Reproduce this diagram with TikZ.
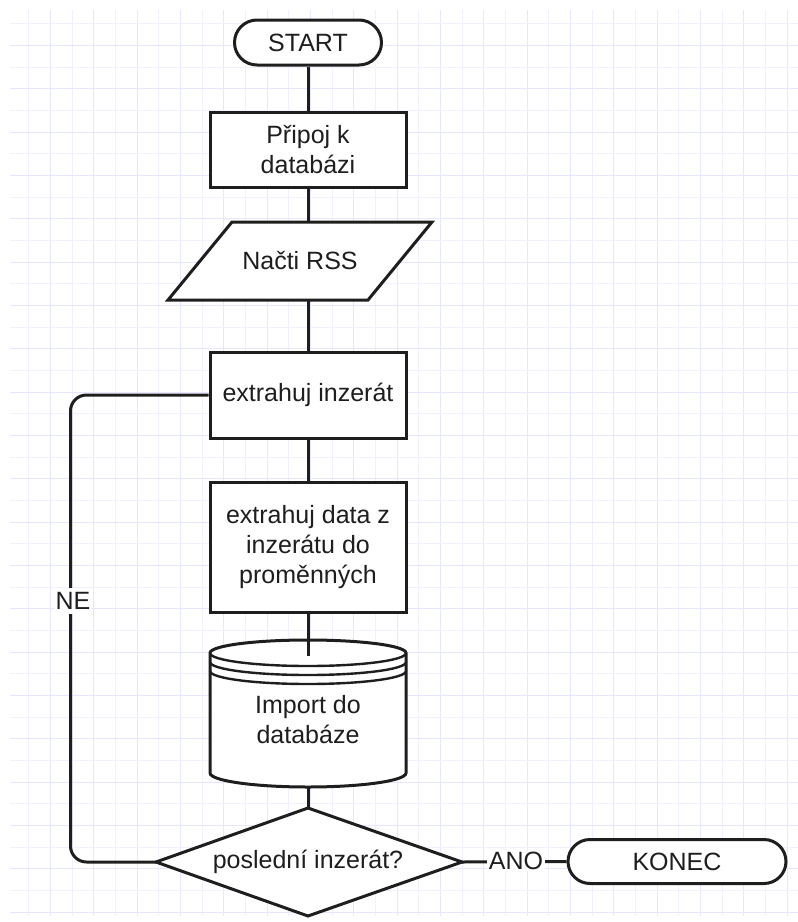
\documentclass[tikz,border=0pt]{standalone}
\usepackage{fontspec}
\setmainfont{Liberation Sans}
\usetikzlibrary{shapes.misc}
\definecolor{gridlight}{RGB}{240,240,255}
\definecolor{griddark}{RGB}{230,230,255}
\definecolor{ink}{RGB}{30,30,30}
\begin{document}
\begin{tikzpicture}[x=1pt,y=-1pt,
  shapeline/.style={line width=3pt, draw=ink},
  proc/.style={shapeline, rectangle, fill=white, minimum width=196pt, inner sep=0pt, align=center, text=ink},
  term/.style={shapeline, rounded rectangle, fill=white, inner sep=0pt, text=ink},
  txt/.style={inner sep=0pt, align=center, text=ink},
  conn/.style={line width=3pt, draw=ink},
  lbl/.style={fill=white, inner sep=1.5pt, text=ink},
  font=\fontsize{25}{30}\selectfont]
\useasboundingbox (0,0) rectangle (798,922);
% grid
\foreach \k in {0,...,35}{
  \pgfmathsetmacro{\gx}{round(28.33+21.667*\k)+0.5}
  \ifodd\k \def\gc{griddark}\else\def\gc{gridlight}\fi
  \draw[line width=1.5pt, draw=\gc] (\gx,10) -- (\gx,916);
}
\foreach \k in {0,...,41}{
  \pgfmathsetmacro{\gy}{round(23.33+21.667*\k)+0.5}
  \ifodd\k \def\gc{griddark}\else\def\gc{gridlight}\fi
  \draw[line width=1.5pt, draw=\gc] (10,\gy) -- (798,\gy);
}
% nodes
\node[term, minimum width=147pt, minimum height=45pt] (start) at (308,42.5) {START};
\node[proc, minimum height=75pt] (pripoj) at (308,149.5) {Připoj k\\databázi};
% parallelogram (input)
\filldraw[shapeline, fill=white] (232,222) -- (432,222) -- (368,300) -- (168,300) -- cycle;
\node[txt] (rss) at (300,261) {Načti RSS};
\coordinate (rsstop) at (308,222);
\coordinate (rssbot) at (308,300);
\node[proc, minimum height=86pt] (ext) at (308,395) {extrahuj inzerát};
\node[proc, minimum height=130pt] (data) at (308,547) {extrahuj data z\\inzerátu do\\proměnných};
% data store cylinder
\filldraw[shapeline, fill=white] (210,653) -- (210,773)
  .. controls (210,780.7) and (253.9,787) .. (308,787)
  .. controls (362.1,787) and (406,780.7) .. (406,773)
  -- (406,653)
  .. controls (406,645.8) and (362.1,640) .. (308,640)
  .. controls (253.9,640) and (210,645.8) .. (210,653) -- cycle;
\foreach \d in {0,9,18}{
  \draw[line width=2.4pt, draw=ink] (210,653+\d)
    .. controls (210,660.2+\d) and (253.9,666+\d) .. (308,666+\d)
    .. controls (362.1,666+\d) and (406,660.2+\d) .. (406,653+\d);
}
\node[txt] (imp) at (308,720) {Import do\\databáze};
\coordinate (cyltop) at (308,656);
\coordinate (cylbot) at (308,787);
% decision diamond
\coordinate (dtop) at (308,808);
\coordinate (dleft) at (156,862);
\coordinate (dright) at (462,862);
\coordinate (dbot) at (308,916);
\filldraw[shapeline, fill=white] (dtop) -- (dright) -- (dbot) -- (dleft) -- cycle;
\node[txt] (dec) at (308,862) {poslední inzerát?};
\node[term, minimum width=218pt, minimum height=44pt] (konec) at (677,861.5) {KONEC};
\coordinate (loop) at (70.5,0);
% connectors
\draw[conn] (start.south) -- (pripoj.north);
\draw[conn] (pripoj.south) -- (rsstop);
\draw[conn] (rssbot) -- (ext.north);
\draw[conn] (ext.south) -- (data.north);
\draw[conn] (data.south) -- (cyltop);
\draw[conn] (cylbot) -- (dtop);
\draw[conn, rounded corners=16pt] (dleft) -- (dleft -| loop) -- (ext.west -| loop) -- (ext.west);
\draw[conn] (dright) -- (konec.west);
\node[lbl, inner ysep=4pt] (ne) at (73,601) {NE};
\node[lbl] (ano) at (516,861) {ANO};
\end{tikzpicture}
\end{document}
